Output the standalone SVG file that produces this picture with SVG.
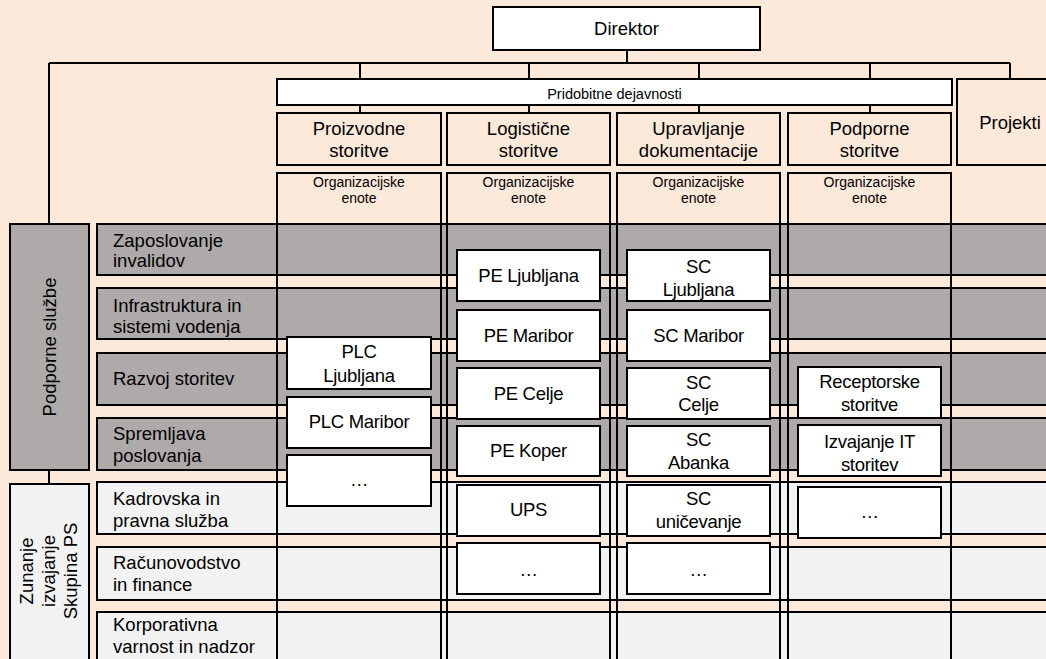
<svg xmlns="http://www.w3.org/2000/svg" width="1046" height="659" viewBox="0 0 1046 659">
<style>
text{font-family:"Liberation Sans",Arial,sans-serif;font-size:18.5px;fill:#000}
.c{text-anchor:middle}
.sm{font-size:14px}
.md{font-size:14.5px}
.bx text{letter-spacing:-0.3px}
.box{fill:#fff;stroke:#000;stroke-width:2}
.hdr{fill:#FDE9D9;stroke:#000;stroke-width:2}
.col{fill:none;stroke:#000;stroke-width:2}
.gray{fill:#AEAAAA;stroke:#000;stroke-width:2}
.light{fill:#F2F2F2;stroke:#000;stroke-width:2}
.ln{fill:none;stroke:#000;stroke-width:2}
</style>
<rect x="0" y="0" width="1046" height="659" fill="#FDE9D9"/>

<g id="connectors">
<path class="ln" d="M49 63H1010M49 63V224M360 63V79M529 63V79M699 63V79M870 63V79M1010 63V79M360 105V113M529 105V113M699 105V113M870 105V113M49 470V484"/>
<path class="ln" stroke-width="3" d="M627 50V63"/>
</g>

<g id="direktor"><rect class="box" x="493" y="7" width="267" height="43"/><text class="c" x="626.5" y="35">Direktor</text></g>
<g id="pridobitne"><rect class="box" x="277" y="79" width="675" height="26"/><text class="c md" x="614.5" y="98.5">Pridobitne dejavnosti</text></g>
<g id="projekti"><rect class="hdr" x="957" y="79" width="106" height="86"/><text class="c" x="1010" y="129">Projekti</text></g>

<g id="rows">
<rect class="gray" x="97" y="224" width="970" height="51"/>
<rect class="gray" x="97" y="288" width="970" height="51"/>
<rect class="gray" x="97" y="353" width="970" height="52"/>
<rect class="gray" x="97" y="418" width="970" height="52"/>
<rect class="light" x="97" y="482" width="970" height="52"/>
<rect class="light" x="97" y="547" width="970" height="53"/>
<rect class="light" x="97" y="612" width="970" height="60"/>
<text x="113" y="247">Zaposlovanje</text><text x="113" y="267">invalidov</text>
<text x="113" y="311.5">Infrastruktura in</text><text x="113" y="333">sistemi vodenja</text>
<text x="113" y="385">Razvoj storitev</text>
<text x="113" y="440">Spremljava</text><text x="113" y="461.5">poslovanja</text>
<text x="113" y="505">Kadrovska in</text><text x="113" y="526.5">pravna služba</text>
<text x="113" y="568.5">Računovodstvo</text><text x="113" y="591">in finance</text>
<text x="113" y="631">Korporativna</text><text x="113" y="653">varnost in nadzor</text>
</g>

<g id="podporne-sluzbe"><rect class="gray" x="10" y="224" width="79" height="246"/><text class="c" transform="translate(56,347) rotate(-90)">Podporne službe</text></g>
<g id="zunanje"><rect class="light" x="10" y="484" width="79" height="190"/>
<text class="c" transform="translate(33,571) rotate(-90)">Zunanje</text>
<text class="c" transform="translate(55,571) rotate(-90)">izvajanje</text>
<text class="c" transform="translate(77,571) rotate(-90)">Skupina PS</text></g>

<g id="col-proizvodne">
<rect class="hdr" x="277" y="113" width="164" height="52"/><text class="c" x="359" y="135">Proizvodne</text><text class="c" x="359" y="157">storitve</text>
<rect class="col" x="277" y="173" width="164" height="500"/><text class="c sm" x="359" y="187">Organizacijske</text><text class="c sm" x="359" y="202.5">enote</text>
</g>
<g id="col-logisticne">
<rect class="hdr" x="447" y="113" width="163" height="52"/><text class="c" x="528.5" y="135">Logistične</text><text class="c" x="528.5" y="157">storitve</text>
<rect class="col" x="447" y="173" width="163" height="500"/><text class="c sm" x="528.5" y="187">Organizacijske</text><text class="c sm" x="528.5" y="202.5">enote</text>
</g>
<g id="col-upravljanje">
<rect class="hdr" x="617" y="113" width="163" height="52"/><text class="c" x="698.5" y="135">Upravljanje</text><text class="c" x="698.5" y="157">dokumentacije</text>
<rect class="col" x="617" y="173" width="163" height="500"/><text class="c sm" x="698.5" y="187">Organizacijske</text><text class="c sm" x="698.5" y="202.5">enote</text>
</g>
<g id="col-podporne">
<rect class="hdr" x="788" y="113" width="163" height="52"/><text class="c" x="869.5" y="135">Podporne</text><text class="c" x="869.5" y="157">storitve</text>
<rect class="col" x="788" y="173" width="163" height="500"/><text class="c sm" x="869.5" y="187">Organizacijske</text><text class="c sm" x="869.5" y="202.5">enote</text>
</g>

<g class="bx">
<g id="plc-ljubljana"><rect class="box" x="287" y="337" width="144" height="52"/><text class="c" x="359" y="357.5">PLC</text><text class="c" x="359" y="381.5">Ljubljana</text></g>
<g id="plc-maribor"><rect class="box" x="287" y="397" width="144" height="51"/><text class="c" x="359" y="428">PLC Maribor</text></g>
<g id="plc-more"><rect class="box" x="287" y="455" width="144" height="51"/><text class="c" x="359" y="486">…</text></g>

<g id="pe-ljubljana"><rect class="box" x="457" y="250" width="143" height="51"/><text class="c" x="528.5" y="282">PE Ljubljana</text></g>
<g id="pe-maribor"><rect class="box" x="457" y="310" width="143" height="51"/><text class="c" x="528.5" y="341.5">PE Maribor</text></g>
<g id="pe-celje"><rect class="box" x="457" y="368" width="143" height="51"/><text class="c" x="528.5" y="400">PE Celje</text></g>
<g id="pe-koper"><rect class="box" x="457" y="426" width="143" height="50"/><text class="c" x="528.5" y="457">PE Koper</text></g>
<g id="ups"><rect class="box" x="457" y="485" width="143" height="51"/><text class="c" x="528.5" y="516">UPS</text></g>
<g id="pe-more"><rect class="box" x="457" y="543" width="143" height="51"/><text class="c" x="528.5" y="576">…</text></g>

<g id="sc-ljubljana"><rect class="box" x="627" y="250" width="143" height="51"/><text class="c" x="698.5" y="273">SC</text><text class="c" x="698.5" y="295.5">Ljubljana</text></g>
<g id="sc-maribor"><rect class="box" x="627" y="310" width="143" height="51"/><text class="c" x="698.5" y="341.5">SC Maribor</text></g>
<g id="sc-celje"><rect class="box" x="627" y="368" width="143" height="51"/><text class="c" x="698.5" y="388.5">SC</text><text class="c" x="698.5" y="410.5">Celje</text></g>
<g id="sc-abanka"><rect class="box" x="627" y="426" width="143" height="50"/><text class="c" x="698.5" y="446">SC</text><text class="c" x="698.5" y="469">Abanka</text></g>
<g id="sc-unicevanje"><rect class="box" x="627" y="485" width="143" height="51"/><text class="c" x="698.5" y="505">SC</text><text class="c" x="698.5" y="528">uničevanje</text></g>
<g id="sc-more"><rect class="box" x="627" y="543" width="143" height="51"/><text class="c" x="698.5" y="576">…</text></g>

<g id="receptorske"><rect class="box" x="798" y="367" width="143" height="51"/><text class="c" x="869.5" y="388">Receptorske</text><text class="c" x="869.5" y="411">storitve</text></g>
<g id="izvajanje-it"><rect class="box" x="798" y="425" width="143" height="51"/><text class="c" x="869.5" y="448">Izvajanje IT</text><text class="c" x="869.5" y="471">storitev</text></g>
<g id="podporne-more"><rect class="box" x="798" y="487" width="143" height="51"/><text class="c" x="869.5" y="518">…</text></g>
</g>
</svg>
